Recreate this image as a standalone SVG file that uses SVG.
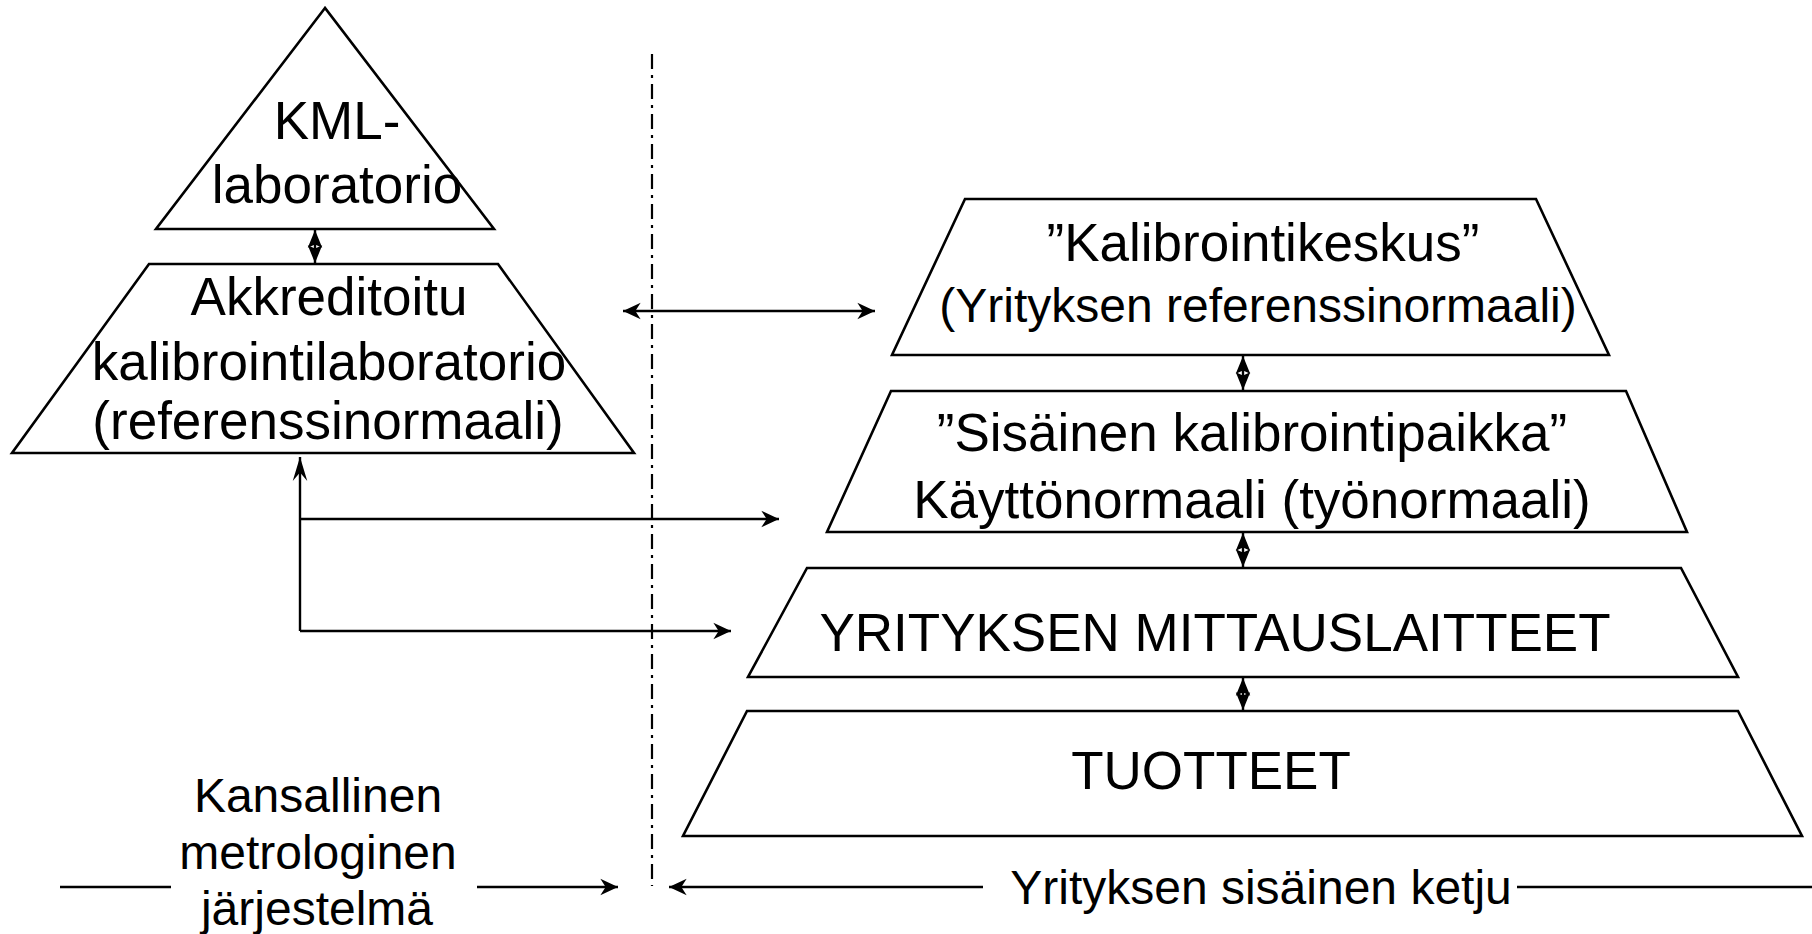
<svg xmlns="http://www.w3.org/2000/svg" width="1812" height="934" viewBox="0 0 1812 934">
<style>
.shape{fill:#fff;stroke:#000;stroke-width:2.6;stroke-linejoin:miter}
.t{font-family:"Liberation Sans",Arial,sans-serif;fill:#000;text-anchor:middle}
.c{fill:none;stroke:#000;stroke-width:2.4}
</style>
<defs>
<marker id="ah" markerUnits="userSpaceOnUse" markerWidth="20" markerHeight="20" viewBox="-16 -8 17 16" refX="0" refY="0" orient="auto-start-reverse"><path d="M0,0 L-15,-7 L-10.5,0 L-15,7 Z" fill="#000"/></marker>
<marker id="sm" markerUnits="userSpaceOnUse" markerWidth="20" markerHeight="20" viewBox="-17 -8 18 16" refX="0" refY="0" orient="auto-start-reverse"><path d="M0,0 L-16,-6.5 L-13,0 L-16,6.5 Z" fill="#000"/></marker>
<marker id="lg" markerUnits="userSpaceOnUse" markerWidth="26" markerHeight="20" viewBox="-24 -8 25 16" refX="0" refY="0" orient="auto"><path d="M0,0 L-23,-7 L-15,0 L-23,7 Z" fill="#000"/></marker>
</defs>
<g id="kml">
<polygon class="shape" points="325,8 156,229 494,229"/>
<text class="t" x="337" y="139" font-size="53">KML-</text>
<text class="t" x="337" y="203" font-size="53">laboratorio</text>
</g>
<g id="akk">
<polygon class="shape" points="149,264 498,264 634,453 12,453"/>
<text class="t" x="329" y="315" font-size="53">Akkreditoitu</text>
<text class="t" x="329" y="380" font-size="53">kalibrointilaboratorio</text>
<text class="t" x="328" y="439" font-size="53">(referenssinormaali)</text>
</g>
<g id="keskus">
<polygon class="shape" points="965,199 1536,199 1609,355 892,355"/>
<text class="t" x="1263" y="261" font-size="53">”Kalibrointikeskus”</text>
<text class="t" x="1258" y="322" font-size="48">(Yrityksen referenssinormaali)</text>
</g>
<g id="sisainen">
<polygon class="shape" points="891,391 1626,391 1687,532 827,532"/>
<text class="t" x="1252" y="451" font-size="53">”Sisäinen kalibrointipaikka”</text>
<text class="t" x="1252" y="518" font-size="53">Käyttönormaali (työnormaali)</text>
</g>
<g id="laitteet">
<polygon class="shape" points="807,568 1681,568 1738,677 748,677"/>
<text class="t" x="1215" y="651" font-size="53">YRITYKSEN MITTAUSLAITTEET</text>
</g>
<g id="tuotteet">
<polygon class="shape" points="747,711 1738,711 1802,836 683,836"/>
<text class="t" x="1211" y="789" font-size="53">TUOTTEET</text>
</g>
<g id="kansallinen">
<text class="t" x="318" y="812" font-size="48">Kansallinen</text>
<text class="t" x="318" y="869" font-size="48">metrologinen</text>
<text class="t" x="317" y="925" font-size="48">järjestelmä</text>
</g>
<g id="ketju">
<text class="t" x="1261" y="904" font-size="48">Yrityksen sisäinen ketju</text>
</g>
<g id="connectors">
<line x1="652" y1="54" x2="652" y2="886" stroke="#000" stroke-width="2.2" stroke-dasharray="15 6 3 6"/>
<line class="c" x1="315" y1="230" x2="315" y2="263" marker-start="url(#sm)" marker-end="url(#sm)"/>
<line class="c" x1="1243" y1="356" x2="1243" y2="390" marker-start="url(#sm)" marker-end="url(#sm)"/>
<line class="c" x1="1243" y1="533" x2="1243" y2="567" marker-start="url(#sm)" marker-end="url(#sm)"/>
<line class="c" x1="1243" y1="678" x2="1243" y2="710" marker-start="url(#sm)" marker-end="url(#sm)"/>
<line class="c" x1="623" y1="311" x2="875" y2="311" marker-start="url(#ah)" marker-end="url(#ah)"/>
<polyline class="c" points="300,631 300,457" marker-end="url(#lg)"/>
<line class="c" x1="300" y1="519" x2="779" y2="519" marker-end="url(#ah)"/>
<line class="c" x1="300" y1="631" x2="731" y2="631" marker-end="url(#ah)"/>
<line class="c" x1="60" y1="887" x2="171" y2="887"/>
<line class="c" x1="477" y1="887" x2="618" y2="887" marker-end="url(#ah)"/>
<line class="c" x1="983" y1="887" x2="669" y2="887" marker-end="url(#ah)"/>
<line class="c" x1="1517" y1="887" x2="1812" y2="887"/>
</g>
</svg>
